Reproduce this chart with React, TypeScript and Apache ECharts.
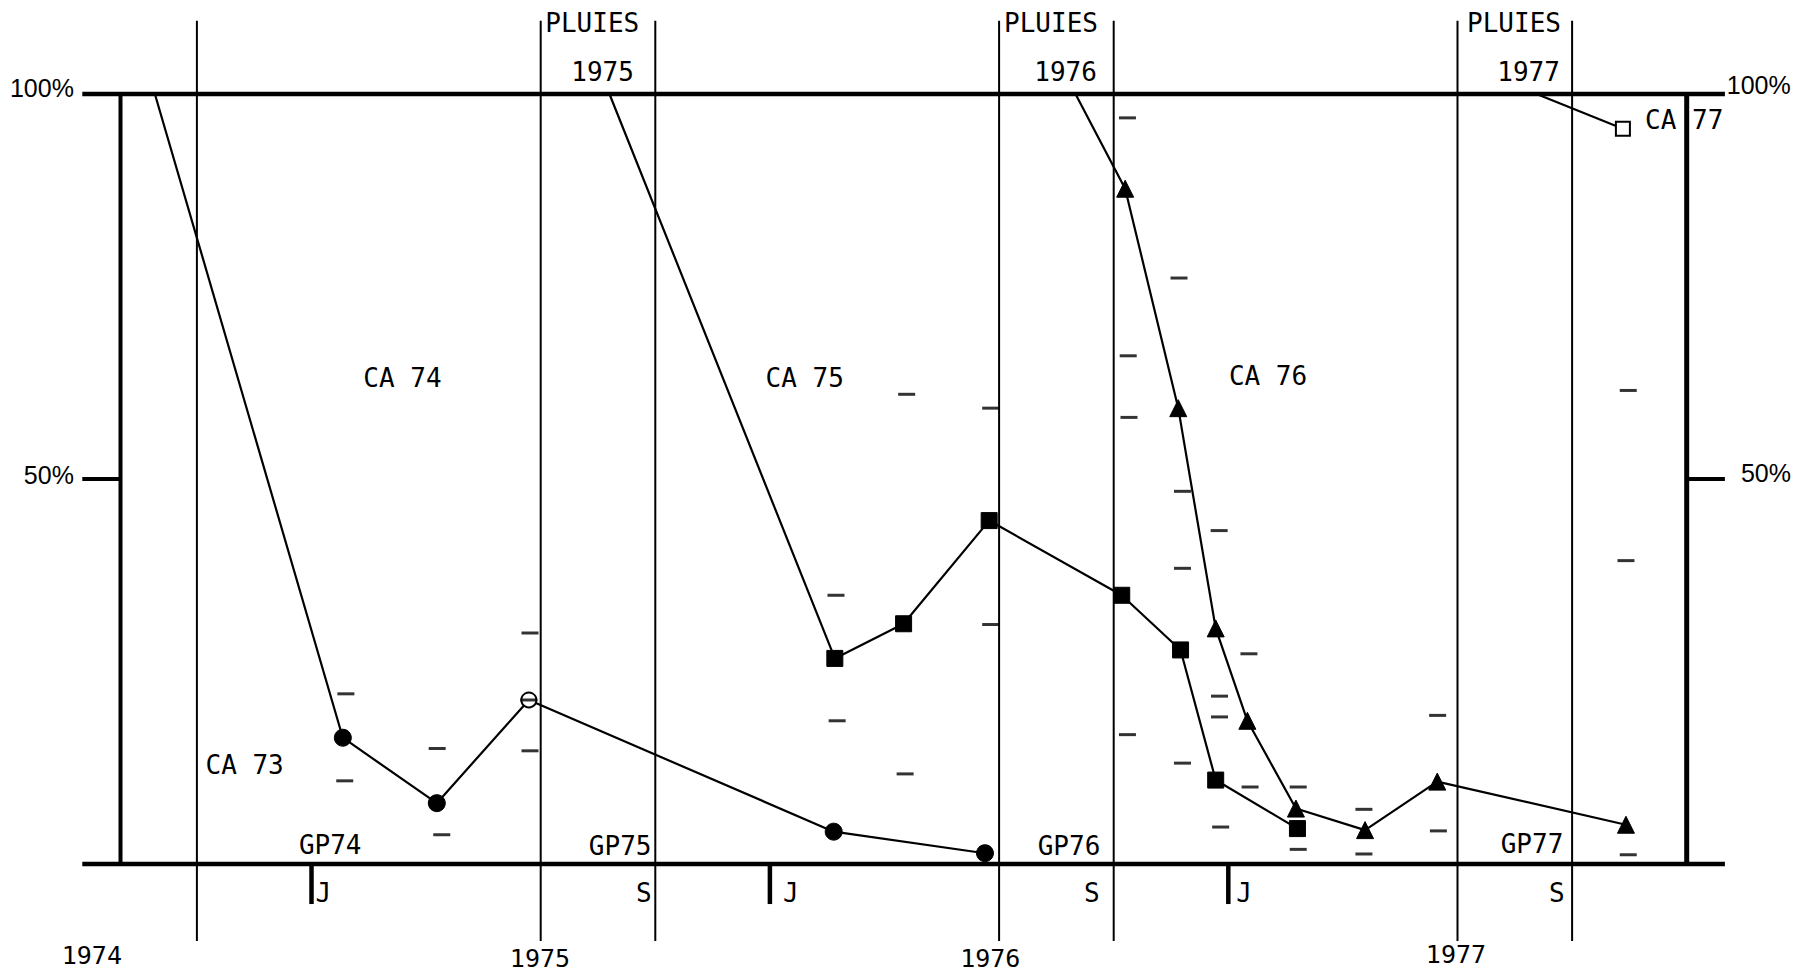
import React, { useEffect, useRef } from "react";
import * as echarts from "echarts";

// x = months since January 1974, y = percent
const ca73: number[][] = [[1.9, 100], [6.82, 16.4], [9.28, 7.9], [11.69, 21.3], [19.67, 4.2], [23.63, 1.4]];
const ca75: number[][] = [[13.8, 100], [19.7, 26.7], [21.5, 31.2], [23.74, 44.6], [27.21, 34.9], [28.75, 27.8], [29.67, 10.9], [31.81, 4.6]];
const ca76: number[][] = [[26.0, 100], [27.3, 87.7], [28.69, 59.2], [29.67, 30.6], [30.5, 18.6], [31.77, 7.2], [33.58, 4.4], [35.47, 10.7], [40.41, 5.1]];
const ca77: number[][] = [[38.07, 100], [40.33, 95.5]];

// confidence-limit dashes
const dashes: number[][] = [
  [6.9, 22.1], [6.87, 10.8], [9.29, 15.0], [9.41, 3.8], [11.72, 30.0], [11.72, 14.7], [11.69, 21.3],
  [19.73, 34.9], [19.76, 18.6], [21.58, 61.0], [21.54, 11.7], [23.78, 59.2], [23.78, 31.1],
  [27.36, 96.9], [27.38, 66.0], [27.4, 58.0], [27.36, 16.8], [28.71, 76.1], [28.8, 48.4], [28.8, 38.4],
  [28.8, 13.1], [29.76, 43.3], [29.77, 21.8], [29.77, 19.1], [29.8, 4.8], [30.54, 27.3], [30.57, 10.0],
  [31.83, 10.0], [31.83, 1.9], [33.55, 7.1], [33.55, 1.3], [35.48, 19.3], [35.5, 4.3],
  [40.47, 61.5], [40.41, 39.4], [40.47, 1.2],
];

// frame: [x1, y1, x2, y2, width]
const frameSegments: number[][] = [
  [0, 100, 43, 100, 4.5],
  [0, 0, 43, 0, 4.5],
  [1, 0, 1, 100, 4],
  [42, 0, 42, 100, 5],
  [0, 50, 1, 50, 4],
  [42, 50, 43, 50, 4],
];
const seasonLines: number[] = [3, 12, 15, 24, 27, 36, 39];
const julyTicks: number[] = [6, 18, 30];

type Lbl = { text: string; x: number; y: number; align: string; size: number; family: string };
const MONO = '"DejaVu Sans Mono", monospace';
const SANS = '"Liberation Sans", Arial, sans-serif';
const labels: Lbl[] = [
  { text: "PLUIES", x: 12.12, y: 109.2, align: "left", size: 26, family: MONO },
  { text: "PLUIES", x: 24.13, y: 109.2, align: "left", size: 26, family: MONO },
  { text: "PLUIES", x: 36.25, y: 109.2, align: "left", size: 26, family: MONO },
  { text: "1975", x: 14.44, y: 102.9, align: "right", size: 26, family: MONO },
  { text: "1976", x: 26.56, y: 102.9, align: "right", size: 26, family: MONO },
  { text: "1977", x: 38.68, y: 102.9, align: "right", size: 26, family: MONO },
  { text: "100%", x: -0.22, y: 100.8, align: "right", size: 25, family: SANS },
  { text: "50%", x: -0.22, y: 50.5, align: "right", size: 25, family: SANS },
  { text: "100%", x: 43.05, y: 101.2, align: "left", size: 25, family: SANS },
  { text: "50%", x: 43.42, y: 50.8, align: "left", size: 25, family: SANS },
  { text: "CA 74", x: 8.38, y: 63.1, align: "center", size: 26, family: MONO },
  { text: "CA 75", x: 18.91, y: 63.1, align: "center", size: 26, family: MONO },
  { text: "CA 76", x: 31.04, y: 63.4, align: "center", size: 26, family: MONO },
  { text: "CA 73", x: 4.25, y: 12.9, align: "center", size: 26, family: MONO },
  { text: "CA 77", x: 40.91, y: 96.6, align: "left", size: 26, family: MONO },
  { text: "GP74", x: 6.49, y: 2.5, align: "center", size: 26, family: MONO },
  { text: "GP75", x: 14.08, y: 2.4, align: "center", size: 26, family: MONO },
  { text: "GP76", x: 25.83, y: 2.4, align: "center", size: 26, family: MONO },
  { text: "GP77", x: 37.95, y: 2.6, align: "center", size: 26, family: MONO },
  { text: "J", x: 6.31, y: -3.8, align: "center", size: 26, family: MONO },
  { text: "J", x: 18.55, y: -3.8, align: "center", size: 26, family: MONO },
  { text: "J", x: 30.41, y: -3.8, align: "center", size: 26, family: MONO },
  { text: "S", x: 14.7, y: -3.8, align: "center", size: 26, family: MONO },
  { text: "S", x: 26.43, y: -3.8, align: "center", size: 26, family: MONO },
  { text: "S", x: 38.6, y: -3.8, align: "center", size: 26, family: MONO },
  { text: "1974", x: 0.25, y: -11.9, align: "center", size: 25, family: MONO },
  { text: "1975", x: 11.98, y: -12.3, align: "center", size: 25, family: MONO },
  { text: "1976", x: 23.77, y: -12.3, align: "center", size: 25, family: MONO },
  { text: "1977", x: 35.96, y: -11.8, align: "center", size: 25, family: MONO },
];

export default function App() {
  const ref = useRef<HTMLDivElement>(null);
  useEffect(() => {
    document.body.style.margin = "0";
    document.body.style.overflow = "hidden";
    const chart = echarts.init(ref.current!, undefined, { renderer: "svg" });

    const segs: number[][] = [
      ...frameSegments,
      ...seasonLines.map((m) => [m, -10, m, 109.5, 2]),
      ...julyTicks.map((m) => [m, 0, m, -5.2, 4.5]),
    ];

    const lineSeries = (name: string, data: any[], symbol: string, size: number, borderWidth: number) => ({
      name,
      type: "line",
      data,
      symbol,
      symbolSize: size,
      showSymbol: true,
      clip: false,
      z: 5,
      lineStyle: { color: "#000", width: 2.2 },
      itemStyle: { color: "#000", borderColor: "#000", borderWidth },
    });

    chart.setOption({
      animation: false,
      backgroundColor: "#fff",
      grid: { left: 82.3, right: 70.1, top: 1.6, bottom: 17.6, outerBoundsMode: "none" } as any,
      xAxis: { type: "value", min: 0, max: 43, show: false },
      yAxis: { type: "value", min: -12, max: 112, show: false },
      series: [
        {
          type: "custom",
          z: 1,
          silent: true,
          data: segs,
          renderItem: (params: any, api: any) => {
            const s = segs[params.dataIndex];
            const p1 = api.coord([s[0], s[1]]);
            const p2 = api.coord([s[2], s[3]]);
            return {
              type: "line",
              shape: { x1: p1[0], y1: p1[1], x2: p2[0], y2: p2[1] },
              style: { stroke: "#000", lineWidth: s[4], lineCap: "butt" },
            };
          },
        },
        lineSeries(
          "CA 73",
          ca73.map((p, i) =>
            i === 0
              ? { value: p, symbol: "none" }
              : i === 3
              ? { value: p, symbol: "emptyCircle", symbolSize: 15, itemStyle: { color: "#000", borderColor: "#000", borderWidth: 3 } }
              : { value: p }
          ),
          "circle",
          17,
          1
        ),
        lineSeries("CA 75", ca75.map((p, i) => (i === 0 ? { value: p, symbol: "none" } : { value: p })), "rect", 16, 1),
        lineSeries("CA 76", ca76.map((p, i) => (i === 0 ? { value: p, symbol: "none" } : { value: p })), "triangle", 17, 1),
        lineSeries("CA 77", ca77.map((p, i) => (i === 0 ? { value: p, symbol: "none" } : { value: p })), "emptyRect", 14, 2.2),
        {
          type: "scatter",
          z: 6,
          data: dashes,
          symbol: "rect",
          symbolSize: [17, 3],
          itemStyle: { color: "#000" },
          clip: false,
        },
        {
          type: "custom",
          z: 10,
          silent: true,
          data: labels.map((l) => [l.x, l.y]),
          renderItem: (params: any, api: any) => {
            const t = labels[params.dataIndex];
            const p = api.coord([t.x, t.y]);
            return {
              type: "text",
              x: p[0],
              y: p[1],
              style: {
                text: t.text,
                fill: "#000",
                font: `${t.size}px ${t.family}`,
                align: t.align,
                verticalAlign: "middle",
                textAlign: t.align,
                textVerticalAlign: "middle",
              },
            };
          },
        },
      ],
    });
    return () => chart.dispose();
  }, []);
  return <div ref={ref} style={{ width: 1795, height: 974 }} />;
}
